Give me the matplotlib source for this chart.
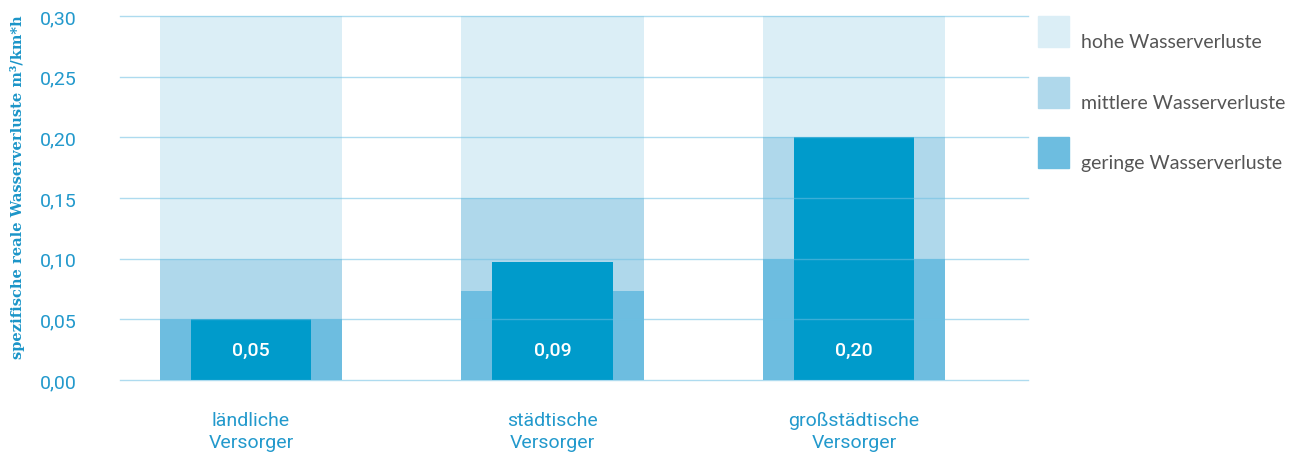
"""
Spezifische reale Wasserverluste nach Versorgertyp.
"""
import matplotlib
matplotlib.use('Agg')
import matplotlib.pyplot as plt
from matplotlib.patches import Rectangle

categories = ['ländliche\nVersorger', 'städtische\nVersorger', 'großstädtische\nVersorger']
# upper bounds of the loss classes per supplier type
geringe = [0.05, 0.073, 0.10]
mittlere = [0.10, 0.15, 0.20]
hohe = [0.30, 0.30, 0.30]
values = [0.05, 0.097, 0.20]
yticks = [0.00, 0.05, 0.10, 0.15, 0.20, 0.25, 0.30]
legend_labels = ['hohe Wasserverluste', 'mittlere Wasserverluste', 'geringe Wasserverluste']

C_HOHE = '#dbeef6'
C_MITTEL = '#afd8eb'
C_GERING = '#6dbde0'
C_VALUE = '#009bcb'
C_TEXT = '#2299cc'
C_GRID = '#6cbfe2'

plt.rcParams['font.family'] = ['Roboto', 'DejaVu Sans']

fig = plt.figure(figsize=(12.97, 4.56), dpi=100)
ax = fig.add_axes([120 / 1297, 1 - 381 / 456, 908 / 1297, 364 / 456])

x = list(range(len(categories)))
wide = 0.604
narrow = 0.40

# stacked background classes
ax.bar(x, hohe, width=wide, color=C_HOHE, zorder=1)
ax.bar(x, mittlere, width=wide, color=C_MITTEL, zorder=2)
ax.bar(x, geringe, width=wide, color=C_GERING, zorder=3)
ax.bar(x, values, width=narrow, color=C_VALUE, zorder=4)

for xi, v in zip(x, values):
    label = '0,%02d' % (int(round(v * 1000)) // 10)
    ax.text(xi, 0.025, label, ha='center', va='center', color='white',
            fontsize=14, fontweight='medium', zorder=6)

for t in yticks:
    ax.axhline(t, color=C_GRID, lw=1, alpha=0.55, zorder=5, clip_on=False)

ax.set_xlim(-0.4345, 2.577)
ax.set_ylim(0, 0.30)
ax.set_yticks(yticks)
ax.set_yticklabels([('%.2f' % t).replace('.', ',') for t in yticks])
ax.set_xticks(x)
ax.set_xticklabels(categories, linespacing=1.35)
ax.tick_params(axis='y', length=0, pad=31, labelsize=14, labelcolor=C_TEXT)
ax.tick_params(axis='x', length=0, pad=22, labelsize=14, labelcolor=C_TEXT)
for s in ax.spines.values():
    s.set_visible(False)

fig.text(18 / 1297, 1 - 187 / 456, 'spezifische reale Wasserverluste m³/km*h',
         rotation=90, ha='center', va='center', color='#1b95c8',
         fontsize=10.5, fontweight='bold', family='DejaVu Serif')

# legend drawn by hand next to the plot
for i, (lab, col) in enumerate(zip(legend_labels, [C_HOHE, C_MITTEL, C_GERING])):
    top = 17 + i * 60.5
    fig.add_artist(Rectangle((1038 / 1297, 1 - (top + 31) / 456), 31 / 1297, 31 / 456,
                             transform=fig.transFigure, color=col))
    fig.text(1081 / 1297, 1 - (top + 26) / 456, lab, ha='left', va='center',
             color='#555555', fontsize=14, family=['Lato', 'DejaVu Sans'])

fig.savefig('out.png', dpi=100)
